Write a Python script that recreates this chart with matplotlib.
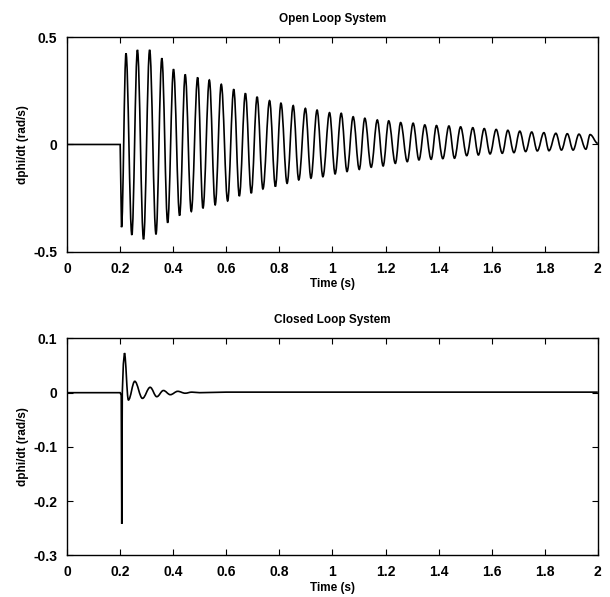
import matplotlib
matplotlib.use("Agg")
import matplotlib.pyplot as plt
from matplotlib.path import Path
from matplotlib.patches import PathPatch

plt.rcParams['font.family'] = ['Liberation Sans', 'DejaVu Sans']

# open loop: flat start, then peaks / troughs
ol_start_t = [0.0, 0.2, 0.205]
ol_start_v = [0.0, 0.0, -0.385]

ol_peak_t = [0.222, 0.265, 0.311, 0.357, 0.401, 0.445, 0.492, 0.536, 0.581, 0.628,
             0.672, 0.716, 0.763, 0.806, 0.852, 0.898, 0.942, 0.989, 1.033, 1.078,
             1.122, 1.169, 1.212, 1.257, 1.304, 1.348, 1.392, 1.439, 1.483, 1.529,
             1.572, 1.617, 1.661, 1.706, 1.751, 1.797, 1.842, 1.885, 1.929, 1.971]
ol_peak_v = [0.424, 0.440, 0.440, 0.401, 0.350, 0.326, 0.312, 0.300, 0.280, 0.257,
             0.238, 0.222, 0.204, 0.192, 0.181, 0.168, 0.160, 0.148, 0.145, 0.129,
             0.122, 0.114, 0.110, 0.102, 0.099, 0.091, 0.088, 0.086, 0.082, 0.078,
             0.074, 0.070, 0.066, 0.062, 0.058, 0.055, 0.052, 0.050, 0.048, 0.046]

ol_trough_t = [0.244, 0.288, 0.335, 0.379, 0.424, 0.468, 0.512, 0.558, 0.605, 0.649,
               0.694, 0.738, 0.785, 0.829, 0.873, 0.919, 0.964, 1.010, 1.055, 1.101,
               1.146, 1.191, 1.237, 1.282, 1.326, 1.372, 1.416, 1.460, 1.506, 1.550,
               1.594, 1.640, 1.684, 1.728, 1.772, 1.816, 1.863, 1.907, 1.955]
ol_trough_v = [-0.421, -0.441, -0.418, -0.364, -0.331, -0.312, -0.297, -0.281, -0.263, -0.240,
               -0.227, -0.207, -0.196, -0.181, -0.165, -0.157, -0.150, -0.137, -0.126, -0.116,
               -0.106, -0.100, -0.088, -0.080, -0.072, -0.069, -0.066, -0.064, -0.052, -0.049,
               -0.044, -0.041, -0.038, -0.033, -0.030, -0.029, -0.026, -0.026, -0.022]

ol_end_t = [2.0]
ol_end_v = [0.005]

# closed loop
cl_t = [0.0, 0.2, 0.204, 0.206, 0.208, 0.212, 0.216, 0.231, 0.255, 0.284,
        0.313, 0.338, 0.363, 0.389, 0.417, 0.445, 0.47, 0.50, 0.6, 2.0]
cl_v = [0.0, 0.0, -0.005, -0.242, 0.0, 0.053, 0.073, -0.0135, 0.021, -0.0105,
        0.0099, -0.0074, 0.004, -0.0037, 0.0025, -0.001, 0.001, 0.0, 0.001, 0.001]

xticks = [0, 0.2, 0.4, 0.6, 0.8, 1, 1.2, 1.4, 1.6, 1.8, 2]
xticklabels = ['0', '0.2', '0.4', '0.6', '0.8', '1', '1.2', '1.4', '1.6', '1.8', '2']

# merge peaks and troughs in time order
pts = sorted(zip(ol_peak_t + ol_trough_t, ol_peak_v + ol_trough_v))
ol_t = ol_start_t + [p[0] for p in pts] + ol_end_t
ol_v = ol_start_v + [p[1] for p in pts] + ol_end_v


def wave_path(t, v, first_curve):
    # straight segments up to first_curve, then bezier arcs between extrema
    verts = [(t[0], v[0])]
    codes = [Path.MOVETO]
    for i in range(1, len(t)):
        if i < first_curve:
            verts.append((t[i], v[i]))
            codes.append(Path.LINETO)
        else:
            dt = t[i] - t[i - 1]
            verts += [(t[i - 1] + 0.3642 * dt, v[i - 1]),
                      (t[i] - 0.3642 * dt, v[i]),
                      (t[i], v[i])]
            codes += [Path.CURVE4] * 3
    return Path(verts, codes)


fig = plt.figure(figsize=(6.10, 5.97), dpi=100)
ax1 = fig.add_axes([0.110, 0.578, 0.870, 0.360])
ax2 = fig.add_axes([0.110, 0.070, 0.870, 0.363])


def style(ax, yticks, ylabels, title):
    ax.set_xlim(0, 2)
    ax.set_xticks(xticks)
    ax.set_xticklabels(xticklabels)
    ax.set_yticks(yticks)
    ax.set_yticklabels(ylabels)
    ax.tick_params(direction='in', length=4, width=0.8, top=True, right=True,
                   labelsize=10, pad=7)
    for lab in ax.get_xticklabels() + ax.get_yticklabels():
        lab.set_fontweight('bold')
    for s in ax.spines.values():
        s.set_linewidth(1.0)
    ax.set_title(title, fontsize=8.5, fontweight='bold', pad=11)
    ax.set_xlabel('Time (s)', fontsize=8.5, fontweight='bold', labelpad=2)
    ax.set_ylabel('dphi/dt (rad/s)', fontsize=8.5, fontweight='bold', labelpad=3)


ax1.add_patch(PathPatch(wave_path(ol_t, ol_v, 3), fill=False, edgecolor='black', lw=1.2))
ax1.set_ylim(-0.5, 0.5)
style(ax1, [-0.5, 0, 0.5], ['-0.5', '0', '0.5'], 'Open Loop System')

ax2.add_patch(PathPatch(wave_path(cl_t, cl_v, 7), fill=False, edgecolor='black', lw=1.2))
ax2.set_ylim(-0.3, 0.1)
style(ax2, [-0.3, -0.2, -0.1, 0, 0.1], ['-0.3', '-0.2', '-0.1', '0', '0.1'], 'Closed Loop System')

fig.savefig('out.png', dpi=100)
